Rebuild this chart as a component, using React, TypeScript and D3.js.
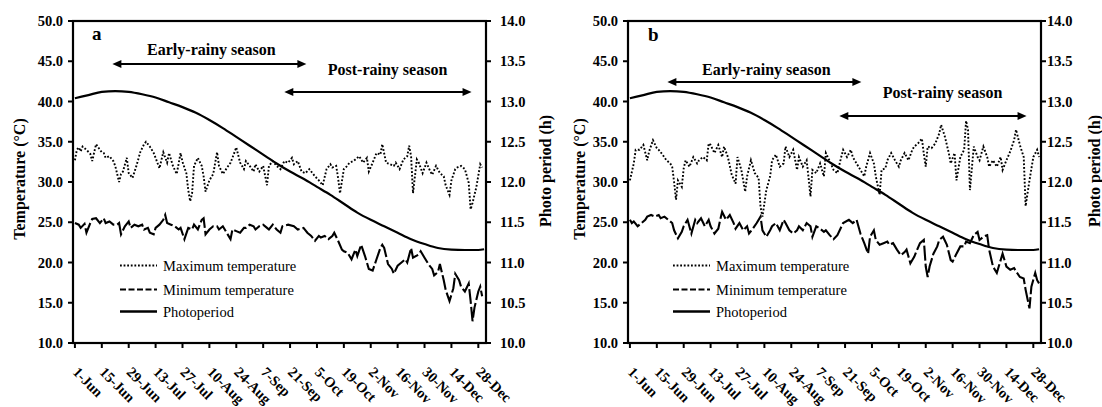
import React from 'react';
import * as d3 from 'd3';

type Pt = [number, number];

// x tick labels (every 14 days from 1-Jun)
const xTickLabels = ['1-Jun', '15-Jun', '29-Jun', '13-Jul', '27-Jul', '10-Aug', '24-Aug', '7-Sep', '21-Sep', '5-Oct', '19-Oct', '2-Nov', '16-Nov', '30-Nov', '14-Dec', '28-Dec'];
const xTickDays = [0, 14, 28, 42, 56, 70, 84, 98, 112, 126, 140, 154, 168, 182, 196, 210];
const tempTicks = [10, 15, 20, 25, 30, 35, 40, 45, 50];
const photoTicks = [10, 10.5, 11, 11.5, 12, 12.5, 13, 13.5, 14];

// Photoperiod (h), day index from 1-Jun
const photoperiod: Pt[] = [[0, 13.04], [7, 13.08], [14, 13.12], [21, 13.13], [28, 13.12], [35, 13.09], [42, 13.05], [49, 12.99], [56, 12.93], [63, 12.86], [70, 12.77], [77, 12.67], [84, 12.56], [91, 12.45], [98, 12.34], [105, 12.23], [112, 12.13], [119, 12.04], [126, 11.94], [133, 11.84], [140, 11.73], [147, 11.62], [154, 11.53], [161, 11.45], [168, 11.37], [175, 11.29], [182, 11.23], [189, 11.18], [196, 11.16], [203, 11.155], [210, 11.155], [213, 11.165]];

// Panel a
const maxA: Pt[] = [[0, 32.7], [1, 34.0], [2, 34.3], [3, 33.8], [4, 34.4], [6, 34.0], [8, 33.5], [9, 32.6], [11, 34.7], [13, 34.0], [14, 33.7], [15, 33.6], [16, 33.0], [18, 33.2], [20, 32.6], [21, 32.0], [23, 30.0], [24, 31.0], [25, 31.3], [27, 33.0], [28, 31.1], [30, 30.5], [32, 32.0], [34, 33.7], [36, 34.7], [37, 35.0], [39, 34.4], [41, 33.6], [42, 33.0], [44, 31.7], [46, 33.7], [48, 32.4], [49, 33.6], [51, 32.0], [53, 31.0], [55, 33.6], [56, 32.5], [58, 31.1], [59, 29.0], [60, 27.6], [61, 28.6], [62, 32.0], [64, 33.0], [66, 32.0], [67, 30.7], [68, 28.8], [70, 30.2], [72, 31.0], [74, 33.7], [75, 32.0], [77, 31.0], [79, 31.7], [81, 32.4], [82, 33.0], [84, 34.3], [86, 32.4], [88, 31.6], [89, 32.6], [91, 32.0], [93, 31.3], [94, 32.2], [96, 31.3], [98, 32.0], [100, 29.6], [101, 32.0], [103, 32.6], [105, 32.0], [107, 31.6], [109, 32.6], [111, 32.4], [113, 33.0], [114, 32.2], [116, 32.6], [118, 31.3], [120, 31.1], [122, 31.6], [125, 30.7], [127, 30.2], [129, 29.6], [131, 31.6], [133, 32.2], [134, 31.8], [136, 32.0], [137, 30.5], [138, 28.6], [140, 31.6], [141, 31.8], [143, 32.4], [145, 32.6], [146, 32.8], [148, 33.2], [150, 32.4], [152, 33.0], [153, 31.3], [155, 32.4], [157, 33.6], [159, 33.4], [160, 34.7], [162, 32.4], [164, 32.2], [166, 32.0], [167, 32.4], [169, 31.6], [171, 32.8], [173, 33.2], [174, 34.5], [175, 33.2], [176, 28.6], [178, 32.8], [179, 32.4], [181, 31.1], [183, 32.4], [185, 31.3], [186, 30.9], [188, 32.0], [190, 31.1], [192, 30.7], [193, 29.6], [195, 28.4], [196, 30.2], [198, 31.6], [199, 31.8], [201, 32.0], [203, 31.6], [205, 29.9], [206, 26.6], [207, 27.4], [209, 29.4], [211, 32.2], [212, 31.8]];

const minA: Pt[] = [[0, 24.9], [2, 24.7], [3, 24.3], [5, 24.8], [6, 23.7], [8, 24.9], [9, 25.4], [11, 25.5], [13, 24.9], [15, 25.5], [16, 24.9], [18, 25.1], [20, 24.7], [22, 24.7], [23, 24.9], [24, 23.5], [26, 24.5], [28, 25.1], [29, 24.3], [31, 24.7], [33, 24.5], [35, 24.7], [36, 24.1], [38, 24.3], [39, 23.7], [41, 23.5], [42, 24.3], [44, 24.7], [46, 25.3], [47, 25.9], [48, 24.9], [50, 24.7], [52, 24.5], [54, 24.1], [55, 24.3], [57, 22.9], [59, 24.3], [61, 24.1], [62, 24.7], [64, 24.1], [66, 25.3], [67, 25.5], [68, 23.5], [70, 24.1], [72, 24.5], [74, 24.5], [75, 24.1], [77, 24.5], [79, 23.7], [81, 22.9], [82, 24.1], [84, 23.9], [86, 23.7], [88, 24.3], [89, 24.3], [91, 24.7], [93, 24.5], [94, 24.1], [96, 24.5], [98, 24.7], [100, 24.3], [101, 24.1], [103, 24.7], [105, 24.1], [107, 23.7], [108, 24.5], [111, 24.7], [114, 24.5], [116, 24.1], [119, 24.3], [121, 23.7], [123, 23.3], [125, 22.7], [127, 23.3], [128, 23.1], [130, 23.3], [132, 22.9], [134, 23.3], [135, 23.7], [137, 22.7], [139, 21.6], [140, 21.4], [142, 21.2], [144, 20.4], [146, 21.6], [147, 20.8], [149, 22.2], [151, 20.8], [153, 19.2], [155, 19.0], [157, 20.4], [159, 21.8], [160, 22.2], [161, 21.8], [163, 19.8], [165, 19.2], [166, 18.6], [168, 19.6], [170, 20.0], [172, 20.4], [173, 20.0], [175, 21.8], [176, 20.6], [179, 21.0], [180, 21.4], [182, 20.6], [184, 19.8], [186, 19.2], [187, 18.4], [189, 18.8], [190, 19.8], [192, 17.8], [193, 16.6], [195, 15.2], [197, 16.8], [198, 18.6], [200, 17.8], [201, 17.0], [203, 16.4], [205, 17.4], [206, 15.2], [207, 12.7], [208, 14.4], [210, 16.4], [211, 17.0], [212, 15.8]];

// Panel b
const maxB: Pt[] = [[0, 30.2], [2, 32.3], [3, 34.0], [5, 34.0], [7, 34.6], [9, 32.7], [10, 33.8], [12, 35.2], [14, 34.2], [15, 34.0], [17, 33.4], [19, 32.7], [21, 32.3], [22, 31.9], [23, 30.0], [24, 27.8], [25, 30.2], [27, 29.4], [28, 31.7], [29, 32.7], [31, 31.9], [33, 33.1], [35, 32.3], [36, 32.7], [38, 33.1], [40, 32.7], [41, 34.8], [42, 34.6], [44, 33.6], [46, 34.6], [48, 33.1], [49, 34.4], [51, 33.1], [53, 30.9], [55, 29.8], [56, 33.1], [58, 31.5], [60, 28.8], [61, 30.7], [63, 32.7], [65, 31.1], [67, 30.5], [68, 26.9], [69, 25.7], [71, 29.0], [73, 30.7], [74, 32.7], [76, 33.4], [78, 31.9], [80, 32.3], [81, 34.4], [83, 33.1], [85, 34.0], [87, 31.5], [88, 33.1], [90, 31.9], [92, 32.7], [93, 30.5], [94, 28.2], [95, 31.5], [97, 31.1], [99, 32.3], [101, 30.7], [102, 33.6], [104, 32.6], [106, 31.5], [108, 31.1], [110, 33.1], [111, 34.0], [113, 33.1], [115, 34.0], [116, 33.1], [118, 32.3], [120, 31.5], [122, 30.7], [123, 31.9], [125, 33.6], [127, 32.3], [128, 30.7], [130, 28.4], [131, 31.5], [133, 31.7], [134, 32.7], [136, 33.6], [138, 32.7], [140, 31.9], [141, 32.7], [143, 33.6], [145, 32.7], [147, 34.0], [148, 34.4], [150, 34.8], [152, 35.4], [153, 33.5], [154, 31.9], [155, 34.4], [157, 34.2], [159, 34.8], [161, 36.0], [162, 37.1], [164, 35.6], [166, 33.6], [167, 32.3], [169, 33.6], [170, 30.2], [172, 33.1], [174, 34.0], [175, 37.6], [176, 36.5], [177, 29.0], [179, 34.4], [181, 33.1], [182, 32.7], [184, 34.4], [186, 33.1], [187, 31.9], [189, 32.7], [191, 31.9], [193, 33.1], [194, 31.5], [196, 32.7], [198, 33.8], [200, 35.2], [201, 36.5], [203, 34.6], [205, 33.1], [206, 27.0], [208, 30.2], [210, 33.1], [212, 34.0], [213, 33.1]];

const minB: Pt[] = [[0, 25.3], [1, 24.9], [2, 25.1], [4, 24.5], [6, 24.9], [8, 25.3], [9, 25.7], [11, 25.9], [13, 25.7], [15, 25.9], [16, 25.5], [18, 25.7], [20, 25.3], [22, 24.9], [23, 24.0], [25, 23.0], [27, 23.8], [28, 24.5], [30, 25.3], [32, 23.6], [34, 25.3], [35, 24.9], [37, 25.5], [39, 24.5], [41, 25.3], [42, 24.5], [44, 23.6], [46, 24.2], [47, 25.3], [48, 26.3], [50, 25.3], [52, 25.9], [54, 24.9], [55, 24.2], [57, 24.9], [59, 24.0], [61, 24.5], [62, 23.6], [64, 24.2], [66, 24.9], [68, 25.7], [69, 24.0], [71, 23.2], [73, 24.0], [74, 24.5], [76, 24.9], [78, 24.0], [80, 25.3], [81, 24.9], [83, 24.0], [85, 23.6], [87, 24.0], [88, 24.5], [90, 24.0], [92, 24.9], [94, 24.5], [95, 23.2], [97, 24.5], [99, 24.2], [101, 23.8], [102, 24.0], [104, 23.4], [106, 22.9], [108, 23.4], [111, 24.9], [114, 25.3], [116, 24.9], [118, 25.3], [120, 23.6], [122, 22.4], [124, 21.1], [125, 23.2], [127, 24.0], [128, 22.8], [130, 22.2], [132, 22.4], [134, 22.6], [135, 22.2], [137, 22.4], [139, 21.6], [141, 20.9], [143, 21.3], [144, 21.6], [146, 19.9], [148, 20.7], [149, 21.3], [151, 22.4], [153, 22.8], [154, 19.5], [155, 18.2], [156, 19.5], [158, 21.1], [160, 22.0], [161, 22.8], [163, 23.2], [165, 22.2], [167, 20.3], [168, 20.1], [170, 21.1], [172, 22.0], [174, 22.0], [175, 22.6], [177, 22.4], [179, 23.4], [181, 23.8], [182, 22.8], [184, 23.2], [186, 23.4], [187, 21.6], [189, 19.5], [191, 18.7], [193, 20.3], [194, 21.1], [196, 19.5], [198, 19.1], [200, 19.3], [201, 18.9], [203, 18.2], [205, 18.0], [206, 16.6], [208, 14.3], [209, 17.0], [211, 18.7], [212, 17.8], [213, 17.4]];

const seasonLabels = ['Early-rainy season', 'Post-rainy season'];
const legendLabels = ['Maximum temperature', 'Minimum temperature', 'Photoperiod'];
const earlySpan: [number, number] = [19.5, 120.5];
const postSpan: [number, number] = [109, 206.5];

const FONT = '"Liberation Serif", "Times New Roman", Times, serif';

interface PanelProps {
  left: number; right: number; top: number; bottom: number;
  letter: string; letterX: number; letterY: number;
  maxData: Pt[]; minData: Pt[];
  earlyTextY: number; earlyArrowY: number; postTextY: number; postArrowY: number;
  legendX: number;
  tempTitleX: number; photoTitleX: number;
  rightLabelGap: number;
  id: string;
}

function Panel(p: PanelProps) {
  const x = d3.scaleLinear().domain([-1, 214]).range([p.left, p.right]);
  const yT = d3.scaleLinear().domain([10, 50]).range([p.bottom, p.top]);
  const yP = d3.scaleLinear().domain([10, 14]).range([p.bottom, p.top]);
  const tLine = d3.line<Pt>().x(d => x(d[0])).y(d => yT(d[1]));
  const pLine = d3.line<Pt>().x(d => x(d[0])).y(d => yP(d[1])).curve(d3.curveMonotoneX);
  const legendRows = [265.5, 289.5, 311.5];
  const arrow = (a: number, b: number, y: number) => {
    const x1 = x(a), x2 = x(b);
    const L = 9, W = 4;
    return (
      <g>
        <line x1={x1 + L - 1} x2={x2 - L + 1} y1={y} y2={y} stroke="#000" strokeWidth={2} />
        <path d={`M${x1},${y} L${x1 + L},${y - W} L${x1 + L},${y + W} Z`} fill="#000" />
        <path d={`M${x2},${y} L${x2 - L},${y - W} L${x2 - L},${y + W} Z`} fill="#000" />
      </g>
    );
  };
  return (
    <g fontFamily={FONT}>
      {/* data lines */}
      <path d={pLine(photoperiod) || ''} fill="none" stroke="#000" strokeWidth={2.2} />
      <path d={tLine(p.maxData) || ''} fill="none" stroke="#000" strokeWidth={1.9} strokeDasharray="1.8 1.9" />
      <path d={tLine(p.minData) || ''} fill="none" stroke="#000" strokeWidth={2.1} strokeDasharray="15 3" />
      {/* frame */}
      <rect x={p.left} y={p.top} width={p.right - p.left} height={p.bottom - p.top} fill="none" stroke="#000" strokeWidth={2.2} />
      {/* left ticks */}
      {tempTicks.map(t => (
        <g key={'l' + t}>
          <line x1={p.left - 5} x2={p.left} y1={yT(t)} y2={yT(t)} stroke="#000" strokeWidth={2} />
          <text x={p.left - 10} y={yT(t)} dy="0.35em" textAnchor="end" fontSize={14.5} fontWeight="bold">{t.toFixed(1)}</text>
        </g>
      ))}
      {photoTicks.map(t => (
        <g key={'r' + t}>
          <line x1={p.right} x2={p.right + 5} y1={yP(t)} y2={yP(t)} stroke="#000" strokeWidth={2} />
          <text x={p.right + p.rightLabelGap} y={yP(t)} dy="0.35em" textAnchor="start" fontSize={14.5} fontWeight="bold">{t.toFixed(1)}</text>
        </g>
      ))}
      {xTickDays.map((d, i) => (
        <g key={'x' + d}>
          <line x1={x(d)} x2={x(d)} y1={p.bottom} y2={p.bottom + 5} stroke="#000" strokeWidth={2} />
          <text transform={`translate(${x(d) - 3},${p.bottom + 30}) rotate(45)`} fontSize={14.5} fontWeight="bold">{xTickLabels[i]}</text>
        </g>
      ))}
      {/* axis titles */}
      <text transform={`translate(${p.tempTitleX},179) rotate(-90)`} textAnchor="middle" fontSize={16} fontWeight="bold">Temperature (°C)</text>
      <text transform={`translate(${p.photoTitleX},171) rotate(-90)`} textAnchor="middle" fontSize={16} fontWeight="bold">Photo period (h)</text>
      {/* panel letter */}
      <text x={p.letterX} y={p.letterY} fontSize={19} fontWeight="bold">{p.letter}</text>
      {/* seasons */}
      <text x={x((earlySpan[0] + earlySpan[1]) / 2 + 1)} y={p.earlyTextY} textAnchor="middle" fontSize={16} fontWeight="bold">{seasonLabels[0]}</text>
      {arrow(earlySpan[0], earlySpan[1], p.earlyArrowY)}
      <text x={x((postSpan[0] + postSpan[1]) / 2 + 5)} y={p.postTextY} textAnchor="middle" fontSize={16} fontWeight="bold">{seasonLabels[1]}</text>
      {arrow(postSpan[0], postSpan[1], p.postArrowY)}
      {/* legend */}
      <line x1={p.legendX} x2={p.legendX + 37} y1={legendRows[0]} y2={legendRows[0]} stroke="#000" strokeWidth={1.8} strokeDasharray="1.8 1.8" />
      <line x1={p.legendX} x2={p.legendX + 37} y1={legendRows[1]} y2={legendRows[1]} stroke="#000" strokeWidth={2.2} strokeDasharray="6 2.5" />
      <line x1={p.legendX} x2={p.legendX + 37} y1={legendRows[2]} y2={legendRows[2]} stroke="#000" strokeWidth={2.4} />
      {legendLabels.map((l, i) => (
        <text key={l} x={p.legendX + 43} y={legendRows[i] + 5} fontSize={14.5}>{l}</text>
      ))}
    </g>
  );
}

export default function App() {
  return (
    <svg width={1102} height={407} style={{ position: 'absolute', left: 0, top: 0, background: '#fff' }}>
      <rect x={0} y={0} width={1102} height={407} fill="#fff" />
      <Panel id="a" left={73} right={486} top={21} bottom={343} letter="a" letterX={92} letterY={40}
        maxData={maxA} minData={minA} earlyTextY={55} earlyArrowY={64} postTextY={75} postArrowY={92}
        legendX={120} tempTitleX={25} photoTitleX={551} rightLabelGap={14} />
      <Panel id="b" left={628} right={1041} top={21} bottom={343} letter="b" letterX={648} letterY={41}
        maxData={maxB} minData={minB} earlyTextY={75} earlyArrowY={82} postTextY={98} postArrowY={116}
        legendX={673} tempTitleX={585} photoTitleX={1100} rightLabelGap={6} />
    </svg>
  );
}
